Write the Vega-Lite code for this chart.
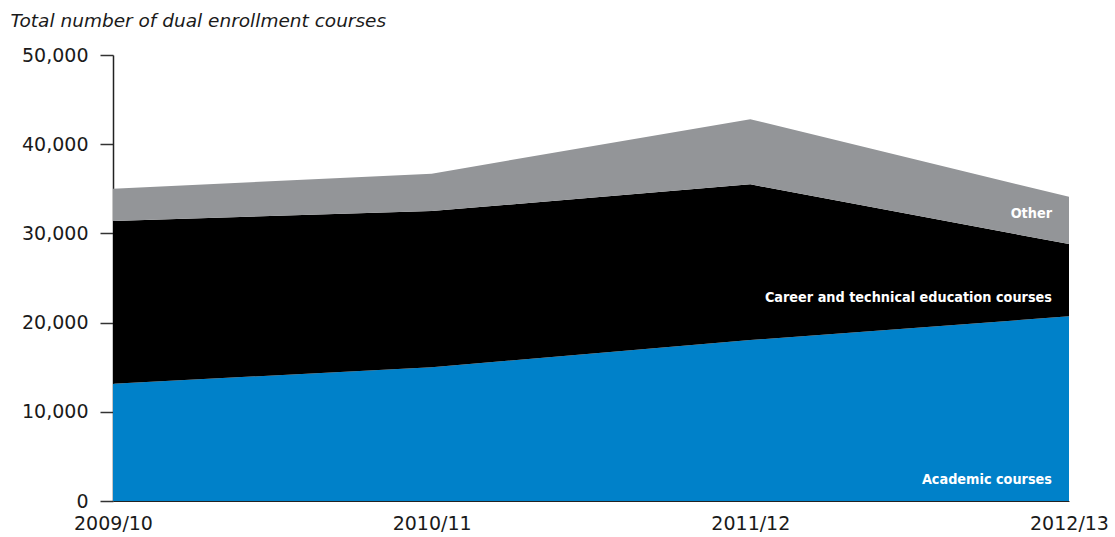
{
  "$schema": "https://vega.github.io/schema/vega-lite/v6.json",
  "width": 956,
  "height": 446,
  "autosize": {"type": "none"},
  "padding": {"left": 113, "top": 55, "right": 46, "bottom": 36},
  "background": "white",
  "config": {"view": {"stroke": null}},
  "datasets": {
    "series": [
      {"year": "2009/10", "category": "Academic courses", "rank": 1, "value": 13150},
      {"year": "2010/11", "category": "Academic courses", "rank": 1, "value": 15000},
      {"year": "2011/12", "category": "Academic courses", "rank": 1, "value": 18050},
      {"year": "2012/13", "category": "Academic courses", "rank": 1, "value": 20700},
      {"year": "2009/10", "category": "Career and technical education courses", "rank": 2, "value": 18250},
      {"year": "2010/11", "category": "Career and technical education courses", "rank": 2, "value": 17500},
      {"year": "2011/12", "category": "Career and technical education courses", "rank": 2, "value": 17450},
      {"year": "2012/13", "category": "Career and technical education courses", "rank": 2, "value": 8100},
      {"year": "2009/10", "category": "Other", "rank": 3, "value": 3600},
      {"year": "2010/11", "category": "Other", "rank": 3, "value": 4200},
      {"year": "2011/12", "category": "Other", "rank": 3, "value": 7300},
      {"year": "2012/13", "category": "Other", "rank": 3, "value": 5300}
    ],
    "labels": [
      {"year": "2012/13", "label": "Other", "pos": 32200},
      {"year": "2012/13", "label": "Career and technical education courses", "pos": 22800},
      {"year": "2012/13", "label": "Academic courses", "pos": 2350}
    ]
  },
  "layer": [
    {
      "data": {"name": "series"},
      "mark": {"type": "area", "line": false},
      "encoding": {
        "x": {
          "field": "year",
          "type": "ordinal",
          "scale": {"type": "point", "padding": 0},
          "axis": {
            "title": null,
            "labelAngle": 0,
            "labelFont": "DejaVu Sans",
            "labelFontSize": 19,
            "labelColor": "#1a1a1a",
            "labelPadding": 13,
            "ticks": false,
            "domain": true,
            "domainColor": "#222222",
            "domainWidth": 1
          }
        },
        "y": {
          "field": "value",
          "type": "quantitative",
          "stack": "zero",
          "scale": {"domain": [0, 50000], "nice": false},
          "axis": {
            "values": [0, 10000, 20000, 30000, 40000, 50000],
            "format": ",d",
            "grid": false,
            "title": "Total number of dual enrollment courses",
            "titleAngle": 0,
            "titleAlign": "left",
            "titleBaseline": "alphabetic",
            "titleX": -103,
            "titleY": -29,
            "titleFont": "DejaVu Sans",
            "titleFontStyle": "italic",
            "titleFontWeight": "normal",
            "titleFontSize": 18.5,
            "titleColor": "#1a1a1a",
            "labelFont": "DejaVu Sans",
            "labelFontSize": 19,
            "labelColor": "#1a1a1a",
            "labelPadding": 12,
            "tickSize": 13,
            "tickColor": "#333333",
            "tickWidth": 1.5,
            "domainColor": "#222222",
            "domainWidth": 1.5
          }
        },
        "color": {
          "field": "category",
          "type": "nominal",
          "scale": {
            "domain": ["Academic courses", "Career and technical education courses", "Other"],
            "range": ["#0081C9", "#000000", "#939598"]
          },
          "legend": null
        },
        "order": {"field": "rank", "type": "quantitative"}
      }
    },
    {
      "data": {"name": "labels"},
      "mark": {
        "type": "text",
        "align": "right",
        "baseline": "middle",
        "dx": -17,
        "font": "DejaVu Sans Condensed, Liberation Sans, sans-serif",
        "fontWeight": "bold",
        "fontSize": 14.3,
        "color": "white"
      },
      "encoding": {
        "x": {"field": "year", "type": "ordinal"},
        "y": {"field": "pos", "type": "quantitative"},
        "text": {"field": "label"}
      }
    }
  ]
}
